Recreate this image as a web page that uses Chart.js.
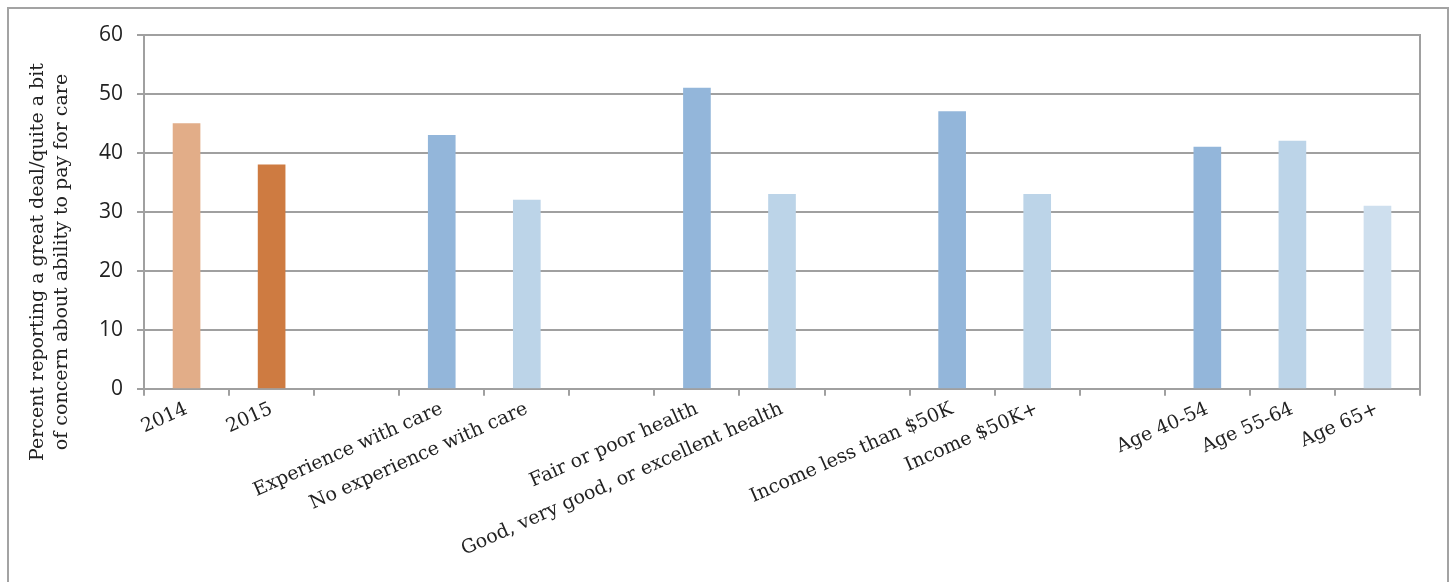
<!DOCTYPE html>
<html lang="en">
  <head>
    <meta charset="UTF-8">
    <title>Concern about ability to pay for care</title>
    <script src="https://cdn.jsdelivr.net/npm/chart.js@4"></script>
    <style>
      body { margin: 0; background: #fff; }
      #frame { position: absolute; left: 7px; top: 7px; width: 1438px; height: 600px; border: 2px solid #a3a3a3; }
      #wrap { position: absolute; left: 0; top: 0; width: 1450px; height: 582px; }
    </style>
  </head>
  <body>
    <div id="frame"></div>
    <div id="wrap"><canvas id="chart"></canvas></div>
    <script type="text/javascript">
      // empty strings are the spacer columns between the groups
      const categories = ['2014', '2015', '', 'Experience with care', 'No experience with care', '',
        'Fair or poor health', 'Good, very good, or excellent health', '',
        'Income less than $50K', 'Income $50K+', '', 'Age 40-54', 'Age 55-64', 'Age 65+']
      const percents = [45, 38, null, 43, 32, null, 51, 33, null, 47, 33, null, 41, 42, 31]
      const barColors = ['#e2ad88', '#ce7b41', '#fff', '#93b6da', '#bcd4e8', '#fff',
        '#93b6da', '#bcd4e8', '#fff', '#93b6da', '#bcd4e8', '#fff', '#93b6da', '#bcd4e8', '#cedfee']
      const yTitle = ['Percent reporting a great deal/quite a bit', 'of concern about ability to pay for care']

      const gridGray = '#a0a0a0'

      // the axis title sits lower than the plot centre in the original, so draw it ourselves
      const yTitlePlugin = {
        id: 'yTitle',
        afterDraw(chart) {
          const c = chart.ctx
          c.save()
          c.translate(50, 262)
          c.rotate(-Math.PI / 2)
          c.fillStyle = '#222'
          c.font = '19px "DejaVu Serif"'
          c.textAlign = 'center'
          c.textBaseline = 'middle'
          c.fillText(yTitle[0], 0, -12)
          c.fillText(yTitle[1], 0, 12)
          c.restore()
        }
      }

      const ctx = document.getElementById('chart').getContext('2d')
      new Chart(ctx, {
        type: 'bar',
        data: {
          labels: categories,
          datasets: [{
            data: percents,
            backgroundColor: barColors,
            barThickness: 27
          }]
        },
        options: {
          responsive: true,
          maintainAspectRatio: false,
          animation: false,
          layout: { padding: { top: 35, right: 30, bottom: 19, left: 85 } },
          plugins: { legend: { display: false }, tooltip: { enabled: false } },
          scales: {
            x: {
              offset: true,
              grid: { offset: true, drawOnChartArea: false, color: gridGray, lineWidth: 2, tickLength: 7 },
              border: { color: gridGray, width: 2 },
              ticks: {
                autoSkip: false,
                minRotation: 24,
                maxRotation: 24,
                padding: 2,
                color: '#222',
                font: { family: 'DejaVu Serif', size: 19 }
              }
            },
            y: {
              min: 0,
              max: 60,
              grid: { color: gridGray, lineWidth: 2, tickLength: 7 },
              border: { color: gridGray, width: 2 },
              ticks: {
                stepSize: 10,
                padding: 14,
                color: '#222',
                font: { family: 'Open Sans', size: 21 }
              }
            },
            yRight: {
              position: 'right',
              min: 0,
              max: 60,
              grid: { drawOnChartArea: false, drawTicks: false },
              border: { color: gridGray, width: 2 },
              ticks: { display: false }
            }
          }
        },
        plugins: [yTitlePlugin]
      })
    </script>
  </body>
</html>
